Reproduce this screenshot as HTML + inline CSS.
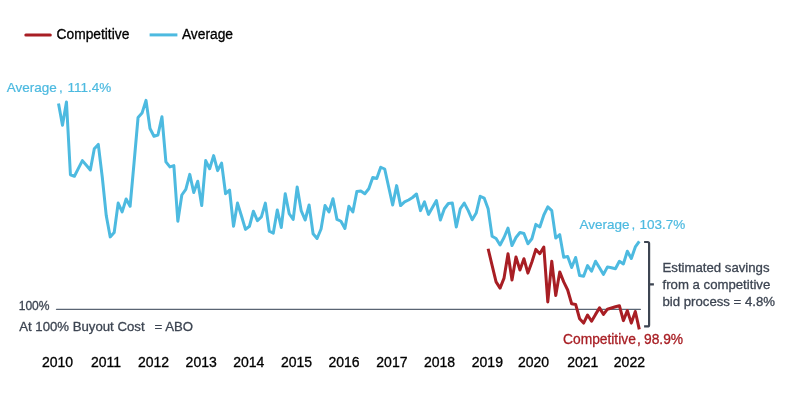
<!DOCTYPE html>
<html><head><meta charset="utf-8"><title>Chart</title>
<style>
html,body{margin:0;padding:0;background:#fff;}
svg{display:block;font-family:"Liberation Sans",Arial,sans-serif;}
text{stroke-width:0.3px;}
.k text{stroke:#000;} .b text{stroke:#4dbae0;stroke-width:0.2px;} .r{stroke:#a81e24;} .d,.d text{stroke:#3d4552;}
</style></head><body>
<svg width="801" height="403" viewBox="0 0 801 403">
<rect width="801" height="403" fill="#fff"/>
<g class="k" font-size="13.8px" fill="#000">
<line x1="25.8" y1="34.9" x2="50.3" y2="34.9" stroke="#a81e24" stroke-width="3" stroke-linecap="round"/>
<text x="56.5" y="38.8">Competitive</text>
<line x1="149.6" y1="34.9" x2="177.4" y2="34.9" stroke="#4dbae0" stroke-width="3" stroke-linecap="butt"/>
<text x="181.9" y="38.8">Average</text>
</g>
<line x1="56.5" y1="309.35" x2="640.4" y2="309.35" stroke="#5a6473" stroke-width="1.35" stroke-linecap="round"/>
<polyline fill="none" stroke="#4dbae0" stroke-width="3" stroke-linejoin="round" stroke-linecap="butt" points="58.50,103.50 62.48,125.20 66.46,102.00 70.43,174.75 74.41,176.25 78.39,168.40 82.37,160.60 86.35,165.30 90.32,170.00 94.30,148.75 98.28,144.40 102.26,177.00 106.24,215.60 110.21,236.90 114.19,232.50 118.17,203.10 122.15,211.90 126.13,199.00 130.10,206.25 134.08,162.50 138.06,117.50 142.04,113.10 146.02,100.40 149.99,128.50 153.97,136.25 157.95,135.00 161.93,116.70 165.91,161.90 169.88,166.90 173.86,165.60 177.84,221.25 181.82,195.00 185.80,189.40 189.77,174.40 193.75,192.50 197.73,181.25 201.71,205.60 205.69,160.60 209.66,168.75 213.64,155.60 217.62,170.60 221.60,163.10 225.58,193.75 229.55,190.00 233.53,226.25 237.51,203.10 241.49,216.00 245.47,229.40 249.44,226.25 253.42,211.25 257.40,220.60 261.38,216.90 265.36,203.10 269.33,231.25 273.31,233.10 277.29,210.00 281.27,227.50 285.25,193.75 289.22,213.75 293.20,219.40 297.18,186.90 301.16,210.60 305.14,220.00 309.11,205.00 313.09,233.75 317.07,238.50 321.05,229.00 325.03,205.60 329.00,211.90 332.98,198.75 336.96,219.40 340.94,221.25 344.92,228.40 348.89,206.25 352.87,211.90 356.85,191.50 360.83,191.00 364.81,193.75 368.78,188.75 372.76,177.50 376.74,178.50 380.72,167.25 384.70,169.00 388.67,187.00 392.65,205.00 396.63,185.60 400.61,205.60 404.59,201.90 408.56,200.00 412.54,197.50 416.52,194.00 420.50,210.60 424.48,201.90 428.45,214.40 432.43,207.50 436.41,200.60 440.39,220.00 444.37,208.75 448.34,203.50 452.32,203.10 456.30,226.90 460.28,208.75 464.26,203.10 468.23,210.60 472.21,219.75 476.19,213.10 480.17,196.25 484.15,198.10 488.12,208.75 492.10,236.25 496.08,238.50 500.06,245.00 504.04,237.50 508.01,228.10 511.99,245.60 515.97,237.50 519.95,232.50 523.93,233.50 527.90,243.75 531.88,238.75 535.86,224.40 539.84,226.90 543.82,215.00 547.79,206.90 551.77,210.60 555.75,238.10 559.73,234.70 563.71,257.25 567.68,256.50 571.66,267.50 575.64,257.50 579.62,275.60 583.60,276.25 587.57,265.60 591.55,271.25 595.53,261.25 599.51,267.80 603.49,274.40 607.46,266.90 611.44,267.75 615.42,268.75 619.40,261.25 623.38,264.00 627.35,251.25 631.33,258.50 635.31,246.90 639.29,241.40"/>
<polyline fill="none" stroke="#a81e24" stroke-width="3" stroke-linejoin="round" stroke-linecap="butt" points="488.12,248.75 492.10,265.30 496.08,281.90 500.06,288.10 504.04,278.10 508.01,253.75 511.99,280.00 515.97,256.90 519.95,270.00 523.93,258.75 527.90,273.10 531.88,262.00 535.86,249.40 539.84,253.75 543.82,247.00 547.79,301.90 551.77,261.25 555.75,295.60 559.73,271.90 563.71,281.90 567.68,290.00 571.66,303.75 575.64,304.40 579.62,318.75 583.60,323.10 587.57,315.00 591.55,321.25 595.53,314.40 599.51,307.90 603.49,314.40 607.46,309.20 611.44,308.00 615.42,306.80 619.40,305.70 623.38,320.60 627.35,310.60 631.33,323.10 635.31,311.50 639.29,329.40"/>
<path d="M644.1 242 H647.6 Q649.1 242 649.1 243.5 V324.9 Q649.1 326.4 647.6 326.4 H644.1 M649.1 284.4 H653.9" fill="none" stroke="#3d4552" stroke-width="2.2" stroke-linejoin="round"/>
<g class="b" font-size="13.5px" fill="#4dbae0">
<text y="91.6"><tspan x="6.8">Average</tspan><tspan x="59.0">, </tspan><tspan x="67.5">111.4%</tspan></text>
<text y="228.5"><tspan x="579.4">Average</tspan><tspan x="631.6">, </tspan><tspan x="639.5">103.7%</tspan></text>
</g>
<text class="r" y="343.6" font-size="13.8px" fill="#a81e24"><tspan x="563">Competitive</tspan><tspan x="637.1">, </tspan><tspan x="644">98.9%</tspan></text>
<g class="d" font-size="13.2px" fill="#3d4552">
<text x="662.5" y="271.8">Estimated savings</text>
<text x="662.5" y="288.8">from a competitive</text>
<text x="662.5" y="305.8">bid process = 4.8%</text>
<text x="19.2" y="330.6">At 100% Buyout Cost</text>
<text x="154.6" y="330.6">= ABO</text>
</g>
<text class="d" x="18.7" y="309.7" font-size="12.6px" fill="#3d4552" textLength="30.9" lengthAdjust="spacingAndGlyphs">100%</text>
<g class="k" font-size="14px" fill="#000"><text x="57.50" y="366.8" text-anchor="middle">2010</text><text x="106.06" y="366.8" text-anchor="middle">2011</text><text x="153.57" y="366.8" text-anchor="middle">2012</text><text x="201.18" y="366.8" text-anchor="middle">2013</text><text x="248.84" y="366.8" text-anchor="middle">2014</text><text x="296.55" y="366.8" text-anchor="middle">2015</text><text x="344.06" y="366.8" text-anchor="middle">2016</text><text x="391.92" y="366.8" text-anchor="middle">2017</text><text x="439.58" y="366.8" text-anchor="middle">2018</text><text x="487.39" y="366.8" text-anchor="middle">2019</text><text x="533.60" y="366.8" text-anchor="middle">2020</text><text x="582.76" y="366.8" text-anchor="middle">2021</text><text x="629.42" y="366.8" text-anchor="middle">2022</text></g>
</svg>
</body></html>
